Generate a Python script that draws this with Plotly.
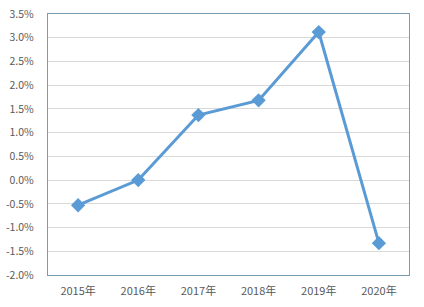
import plotly.graph_objects as go

years = ["2015年", "2016年", "2017年", "2018年", "2019年", "2020年"]
values = [-0.53, 0.0, 1.37, 1.68, 3.12, -1.33]
tick_vals = [-2.0, -1.5, -1.0, -0.5, 0.0, 0.5, 1.0, 1.5, 2.0, 2.5, 3.0, 3.5]
tick_text = [f"{v:.1f}%" for v in tick_vals]

fig = go.Figure()
fig.add_trace(go.Scatter(
    x=years, y=values, mode="lines+markers",
    line=dict(color="#5b9bd5", width=3),
    marker=dict(symbol="diamond", size=11, color="#5b9bd5"),
    showlegend=False, cliponaxis=False,
))

fig.update_layout(
    width=424, height=307,
    margin=dict(l=48, r=15, t=14, b=32, autoexpand=False),
    paper_bgcolor="white", plot_bgcolor="white",
    font=dict(family="Noto Sans CJK SC, sans-serif", size=11, color="#595959"),
    xaxis=dict(
        type="category", range=[-0.5, 5.5], automargin=False,
        showgrid=False, showline=True, linecolor="#7a9cb3", linewidth=1.2,
        mirror=True, ticks="", ticklabelstandoff=6,
        tickfont=dict(size=11, color="#595959"),
    ),
    yaxis=dict(
        range=[-2.0, 3.5], tickvals=tick_vals, ticktext=tick_text,
        automargin=False,
        showgrid=True, gridcolor="#d9d9d9", gridwidth=1,
        showline=True, linecolor="#7a9cb3", linewidth=1.2, mirror=True,
        zeroline=False, ticks="", ticklabelstandoff=11,
        tickfont=dict(size=10.5, color="#595959"),
    ),
)

fig.write_html("out.html")
